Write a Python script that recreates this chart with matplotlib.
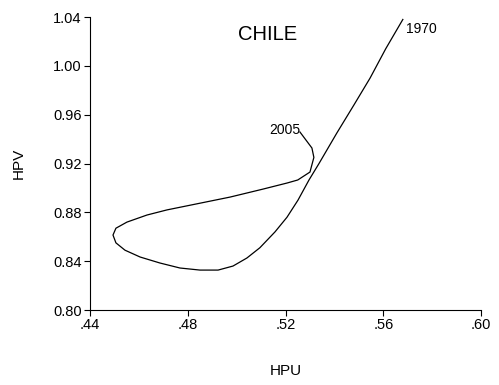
import numpy as np
import matplotlib.pyplot as plt
from matplotlib.ticker import FuncFormatter

plt.rcParams['font.family'] = ['Liberation Sans', 'DejaVu Sans']

# HPU / HPV path for Chile, 1970 -> 2005
hpu = [0.568, 0.561, 0.5546, 0.548, 0.541, 0.5337, 0.5296, 0.5251, 0.5206,
       0.5157, 0.5095, 0.5042, 0.4985, 0.4924, 0.485, 0.4768, 0.4686, 0.4605,
       0.4543, 0.4506, 0.4494, 0.4506, 0.4551, 0.4633, 0.4715, 0.4838, 0.4973,
       0.5107, 0.5206, 0.525, 0.530, 0.5316, 0.5308, 0.5259]
hpv = [1.038, 1.014, 0.990, 0.968, 0.945, 0.920, 0.9065, 0.890, 0.876,
       0.864, 0.851, 0.8426, 0.836, 0.8327, 0.8327, 0.8344, 0.8385, 0.8434,
       0.849, 0.855, 0.8614, 0.867, 0.872, 0.8778, 0.882, 0.887, 0.8925,
       0.899, 0.904, 0.9065, 0.913, 0.925, 0.9327, 0.9458]

xticks = [0.44, 0.48, 0.52, 0.56, 0.60]
yticks = [0.80, 0.84, 0.88, 0.92, 0.96, 1.00, 1.04]

fig = plt.figure(figsize=(4.99, 3.85), dpi=100)
ax = fig.add_axes([0.1804, 0.1948, 0.7836, 0.761])

ax.plot(hpu, hpv, color='black', lw=0.9)

ax.set_xlim(0.44, 0.60)
ax.set_ylim(0.80, 1.04)
ax.set_xticks(xticks)
ax.set_yticks(yticks)
ax.xaxis.set_major_formatter(FuncFormatter(lambda v, p: f"{v:.2f}".lstrip('0')))
ax.yaxis.set_major_formatter(FuncFormatter(lambda v, p: f"{v:.2f}"))
ax.tick_params(direction='out', length=4, width=0.8, labelsize=10.5, pad=2)

for s in ['top', 'right']:
    ax.spines[s].set_visible(False)
for s in ['left', 'bottom']:
    ax.spines[s].set_linewidth(0.8)

ax.set_xlabel('HPU', fontsize=11)
ax.set_ylabel('HPV', fontsize=11)
ax.xaxis.set_label_coords(0.5, -0.185)
ax.yaxis.set_label_coords(-0.165, 0.5)

ax.text(0.5128, 1.026, 'CHILE', fontsize=14.5, ha='center', va='center')
ax.text(hpu[0] + 0.0015, hpv[0] - 0.008, '1970', fontsize=10, ha='left', va='center')
ax.text(hpu[-1] + 0.0002, hpv[-1] + 0.002, '2005', fontsize=10, ha='right', va='center')

fig.savefig('out.png', dpi=100)
